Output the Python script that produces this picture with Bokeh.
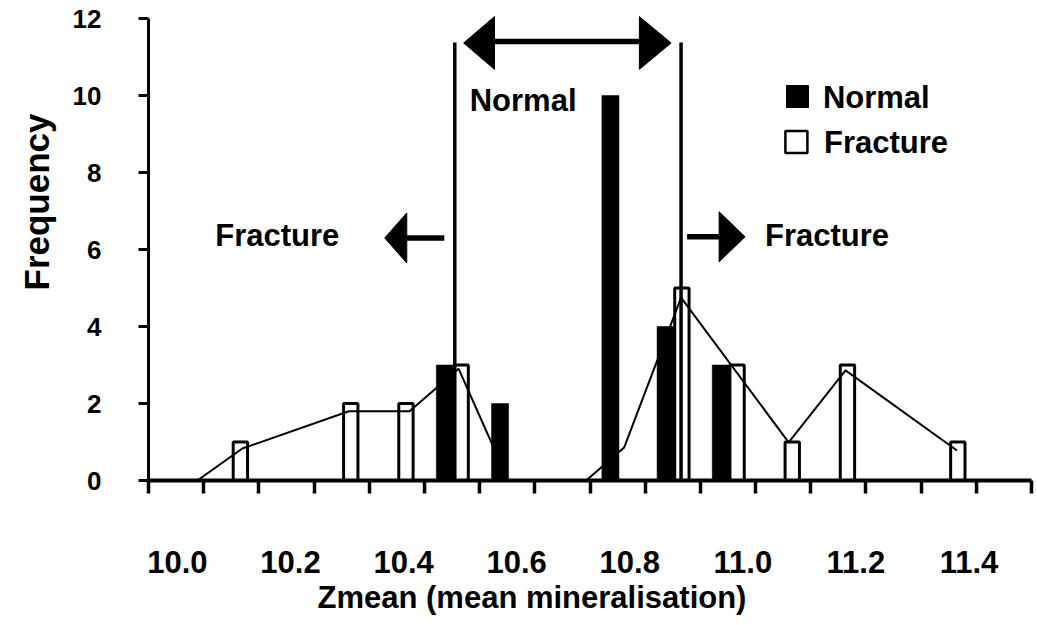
from bokeh.plotting import figure
from bokeh.models import Range1d, FixedTicker, LinearAxis, Title
from bokeh.core.properties import value
from bokeh.embed import file_html
from bokeh.resources import INLINE

# ---------------- data ----------------
categories = [10.0, 10.1, 10.2, 10.3, 10.4, 10.5, 10.6, 10.7,
              10.8, 10.9, 11.0, 11.1, 11.2, 11.3, 11.4, 11.5]
normal =   [0, 0, 0, 0, 0, 3, 2, 0, 10, 4, 3, 0, 0, 0, 0, 0]
fracture = [0, 1, 0, 2, 2, 3, 0, 0, 0, 5, 3, 1, 3, 0, 1, 0]

# freehand line drawn over the fracture bars
line_x = [10.0385, 10.12, 10.313, 10.423, 10.512, 10.602, 10.743,
          10.812, 10.915, 11.11, 11.213, 11.415]
line_y = [0, 0.83, 1.8, 1.8, 2.9, 0, 0, 0.86, 4.75, 0.99, 2.86, 0.78]

# limits of the "normal" range
lower_limit = 10.505
upper_limit = 10.915

x_tick_labels = ["10.0", "10.2", "10.4", "10.6", "10.8", "11.0", "11.2", "11.4"]
y_ticks = [0, 2, 4, 6, 8, 10, 12]

FONT = value("Liberation Sans")

# ---------------- figure ----------------
p = figure(width=1035, height=623, output_backend="svg", toolbar_location=None,
           x_range=Range1d(9.95, 11.55), y_range=Range1d(0, 12.26),
           min_border_left=146, min_border_right=4, min_border_top=8,
           min_border_bottom=143)
p.title.visible = False
p.outline_line_color = None
p.grid.visible = False
p.background_fill_color = "white"

# bars (clustered: normal left, fracture right of each bin centre)
nx = [c - 0.013 for c, v in zip(categories, normal) if v > 0]
nt = [v for v in normal if v > 0]
fx = [c + 0.0165 for c, v in zip(categories, fracture) if v > 0]
ft = [v for v in fracture if v > 0]

p.vbar(x=fx, top=ft, bottom=0, width=0.026, fill_color="white",
       line_color="black", line_width=3)
p.vbar(x=nx, top=nt, bottom=0, width=0.031, fill_color="black",
       line_color="black", line_width=0.5)

# limit lines
p.segment(x0=[lower_limit, upper_limit], y0=[-0.1, -0.1],
          x1=[lower_limit, upper_limit], y1=[11.38, 11.38],
          line_color="black", line_width=3.5)

# line
p.line(line_x, line_y, line_color="black", line_width=2)

# arrows (annotation shapes)
p.segment(x0=[10.577, 10.418, 10.926],
          y0=[11.40, 6.30, 6.33],
          x1=[10.8395, 10.486, 10.984],
          y1=[11.40, 6.30, 6.33],
          line_color="black", line_width=5.5)
p.patches(
    xs=[[10.521, 10.577, 10.577], [10.897, 10.8395, 10.8395],
        [10.378, 10.418, 10.418], [11.031, 10.984, 10.984]],
    ys=[[11.364, 12.05, 10.68], [11.364, 12.05, 10.68],
        [6.30, 6.95, 5.65], [6.33, 6.98, 5.68]],
    fill_color="black", line_color="black", line_width=1)

# in-plot texts
p.text(x=[10.532, 10.071, 11.067], y=[9.87, 6.36, 6.36],
       text=["Normal", "Fracture", "Fracture"],
       text_font=FONT, text_font_style="bold", text_font_size="31px",
       text_align="left", text_baseline="alphabetic", text_color="black")

# legend
p.scatter(x=[11.126], y=[9.974], marker="square", size=22,
          fill_color="black", line_color="black", line_width=1)
p.scatter(x=[11.124], y=[8.79], marker="square", size=22,
          fill_color="white", line_color="black", line_width=2.5)
p.text(x=[11.172, 11.174], y=[9.95, 8.78], text=["Normal", "Fracture"],
       text_font=FONT, text_font_style="bold", text_font_size="31px",
       text_align="left", text_baseline="alphabetic", text_color="black")

# ---------------- axes ----------------
yax = p.yaxis[0]
yax.ticker = FixedTicker(ticks=y_ticks)
yax.bounds = (0, 12)
yax.axis_line_width = 3
yax.major_tick_out = 10
yax.major_tick_in = 0
yax.major_tick_line_width = 3
yax.minor_tick_line_color = None
yax.major_label_text_font = "Liberation Sans"
yax.major_label_text_font_style = "bold"
yax.major_label_text_font_size = "26px"
yax.major_label_standoff = 37
yax.major_label_text_color = "black"

# tick marks at the bin edges (no labels of their own)
xax = p.xaxis[0]
xax.ticker = FixedTicker(ticks=[round(9.95 + 0.1 * k, 3) for k in range(17)])
xax.axis_line_width = 4
xax.major_tick_out = 13
xax.major_tick_in = 0
xax.major_tick_line_width = 3.5
xax.minor_tick_line_color = None
xax.major_label_text_font_size = "1px"
xax.major_label_text_color = None
xax.major_label_standoff = 0

# tick labels
label_pos = [round(10.0024 + 0.2049 * i, 4) for i in range(len(x_tick_labels))]
lab_ax = LinearAxis(ticker=FixedTicker(ticks=label_pos),
                    major_label_overrides={pos: t for pos, t in zip(label_pos, x_tick_labels)},
                    axis_line_color=None, major_tick_line_color=None,
                    minor_tick_line_color=None, major_tick_out=0, major_tick_in=0,
                    major_label_standoff=57,
                    major_label_text_font="Liberation Sans",
                    major_label_text_font_style="bold",
                    major_label_text_font_size="31px",
                    major_label_text_color="black")
p.add_layout(lab_ax, "below")

# axis titles
p.add_layout(Title(text="Zmean (mean mineralisation)", align="left", offset=169,
                   text_font="Liberation Sans", text_font_style="bold",
                   text_font_size="31px", text_color="black", standoff=5),
             "below")
p.add_layout(Title(text="Frequency", align="left", offset=190,
                   text_font="Liberation Sans", text_font_style="bold",
                   text_font_size="35px", text_color="black", standoff=28),
             "left")

open("out.html", "w").write(file_html(p, INLINE))
